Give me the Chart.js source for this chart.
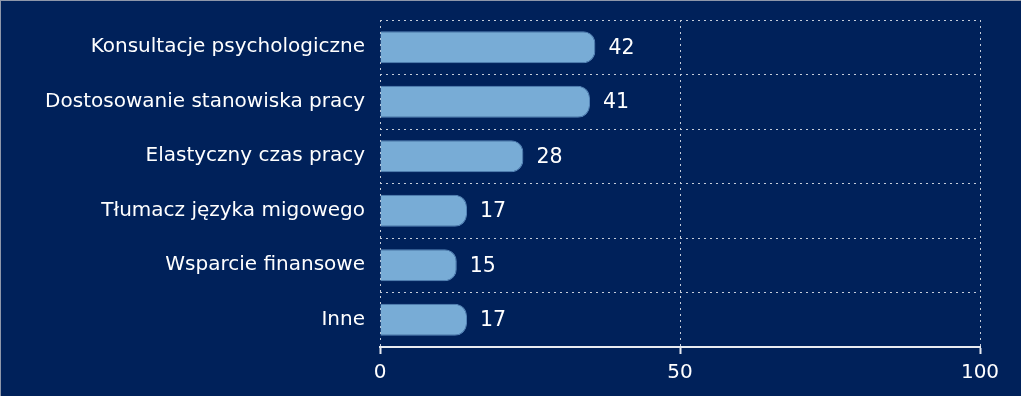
<!DOCTYPE html>
<html>
<head>
<meta charset="utf-8">
<script src="https://cdn.jsdelivr.net/npm/chart.js@4/dist/chart.umd.min.js"></script>
<style>
  html, body { margin: 0; padding: 0; background: #00215a; }
  #wrap { position: absolute; left: 0; top: 0; width: 1020px; height: 395px;
          border-top: 1px solid #8e97aa; border-left: 1px solid #8e97aa; background: #00215a; }
  canvas { display: block; }
</style>
</head>
<body>
<div id="wrap"><canvas id="c" width="1020" height="395"></canvas></div>
<script>
const categories = [
  "Konsultacje psychologiczne",
  "Dostosowanie stanowiska pracy",
  "Elastyczny czas pracy",
  "Tłumacz języka migowego",
  "Wsparcie finansowe",
  "Inne"
];
// bar lengths (percent)
const barValues = [35.9, 35.0, 23.9, 14.5, 12.8, 14.5];
// numbers printed next to the bars
const barLabels = ["42", "41", "28", "17", "15", "17"];
const xTicks = [0, 50, 100];

const FONT = "'DejaVu Sans', sans-serif";
const FSIZE = 20;

const valueLabels = {
  id: 'valueLabels',
  afterDatasetsDraw(chart) {
    const ctx = chart.ctx;
    const meta = chart.getDatasetMeta(0);
    ctx.save();
    ctx.fillStyle = '#ffffff';
    ctx.font = '20.5px ' + FONT;
    ctx.textAlign = 'left';
    ctx.textBaseline = 'middle';
    meta.data.forEach((bar, i) => {
      ctx.fillText(barLabels[i], bar.x + 13, bar.y + 1);
    });
    ctx.restore();
  }
};

new Chart(document.getElementById('c'), {
  type: 'bar',
  data: {
    labels: categories,
    datasets: [{
      data: barValues,
      backgroundColor: '#78acd6',
      borderColor: '#5585b8',
      borderWidth: 1,
      borderRadius: 12,
      borderSkipped: 'start',
      categoryPercentage: 1,
      barPercentage: 0.59
    }]
  },
  options: {
    indexAxis: 'y',
    responsive: false,
    animation: false,
    devicePixelRatio: 1,
    layout: { padding: { top: 19, right: 41, bottom: 0, left: 0 } },
    plugins: { legend: { display: false }, tooltip: { enabled: false } },
    scales: {
      y: {
        afterFit(scale) {
          scale.width = 379;
          scale.paddingTop = 0;
          scale.paddingBottom = 0;
        },
        grid: {
          color: '#c5ccda',
          lineWidth: 1,
          drawTicks: false,
          offset: true
        },
        border: { display: false, dash: [2, 4] },
        ticks: {
          color: '#ffffff',
          font: { family: FONT, size: FSIZE },
          padding: 15
        }
      },
      x: {
        min: 0,
        max: 100,
        afterFit(scale) {
          scale.height = 49;
          scale.paddingLeft = 0;
          scale.paddingRight = 0;
        },
        afterBuildTicks(scale) { scale.ticks = xTicks.map(v => ({ value: v })); },
        grid: {
          color: '#c5ccda',
          lineWidth: 1,
          drawTicks: true,
          tickLength: 7,
          tickColor: '#e8ebf0',
          tickWidth: 2,
          tickBorderDash: []
        },
        border: { display: true, color: '#e8ebf0', width: 2, dash: [2, 4] },
        ticks: {
          color: '#ffffff',
          font: { family: FONT, size: FSIZE },
          padding: 7,
          maxRotation: 0
        }
      }
    }
  },
  plugins: [valueLabels]
});
</script>
</body>
</html>
